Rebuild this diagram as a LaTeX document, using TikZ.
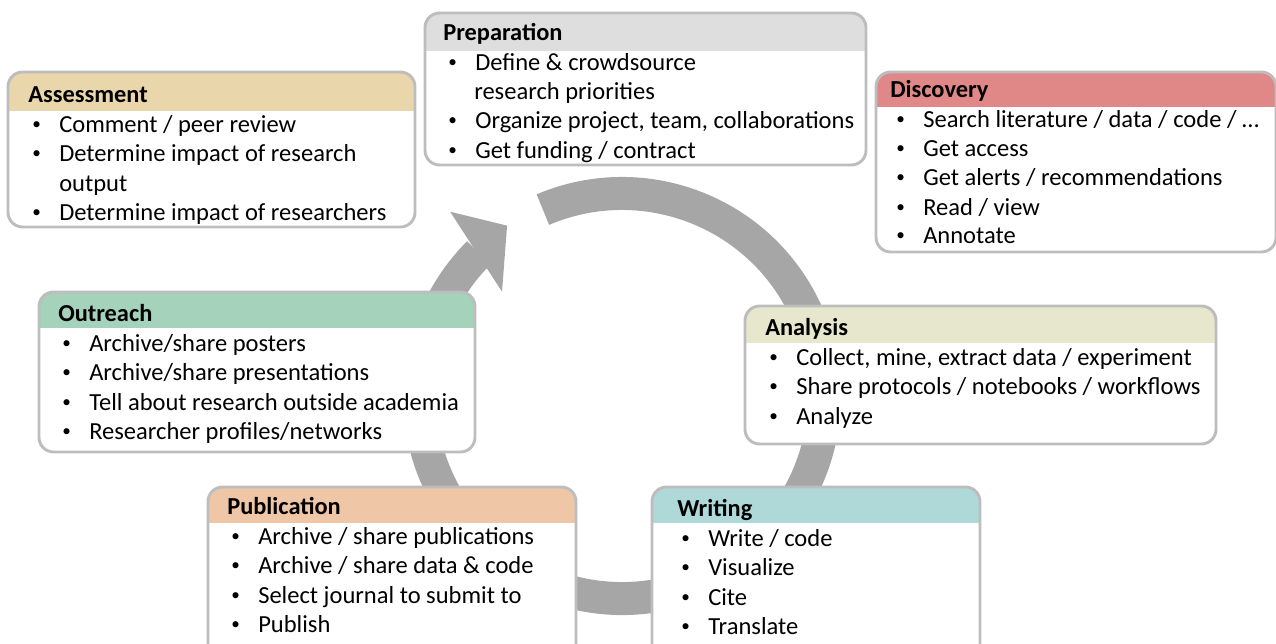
\documentclass[tikz,border=0pt]{standalone}
\usepackage{fontspec}
\setmainfont{Carlito}
\usetikzlibrary{calc}

\definecolor{ringgray}{HTML}{A6A6A6}
\definecolor{edgegray}{HTML}{BDBDBD}
\definecolor{prepcol}{HTML}{DCDCDC}
\definecolor{assesscol}{HTML}{E8D4A4}
\definecolor{disccol}{HTML}{DE7E7E}
\definecolor{outrcol}{HTML}{9DCFB5}
\definecolor{analcol}{HTML}{E6E6C9}
\definecolor{pubcol}{HTML}{EEC3A0}
\definecolor{writcol}{HTML}{A9D5D6}

\tikzset{
    box/.style={draw=edgegray, line width=2.2pt, rounded corners=11pt},
    title/.style={anchor=base west, inner sep=0pt, font=\fontsize{18.3}{22}\selectfont\bfseries},
    item/.style={anchor=base west, inner sep=0pt, font=\fontsize{18.4}{22}\selectfont},
    ring/.style={draw=ringgray, line width=24.75pt},
}

% box: x1, y1, x2, y2, header bottom, header colour
\newcommand\stagebox[6]{%
    \fill[white, rounded corners=11pt] (#1,#2) rectangle (#3,#4);
    \begin{scope}
        \clip[rounded corners=11pt] (#1,#2) rectangle (#3,#4);
        \fill[#6, fill opacity=.92] (#1,#2) rectangle (#3,#5);
    \end{scope}
    \draw[box] (#1,#2) rectangle (#3,#4);
}
\newcommand\bul{\makebox[20.25pt][l]{\raisebox{.12em}{\scalebox{.7}{\textbullet}}}}

\begin{document}
\begin{tikzpicture}[x=0.75pt,y=-0.75pt]
    \useasboundingbox (0,0) rectangle (1276,643);
    \coordinate (c) at (622,396);

    % cycle arrow
    \draw[ring] ($(c)+(-113:202.5)$) arc[start angle=-113, end angle=225, radius=202.5];
    \fill[ringgray] ($(c)+(221:159)$) -- ($(c)+(236:205.5)$) -- ($(c)+(227:252)$) -- cycle;

    % Preparation
    \stagebox{425}{13}{866}{165}{51}{prepcol}
    \node[title] (prep) at (443,40) {Preparation};
    \node[item] (prep1) at (448,70) {\bul Define \& crowdsource};
    \node[item] (prep1b) at (474,99) {research priorities};
    \node[item] (prep2) at (448,128) {\bul Organize project, team, collaborations};
    \node[item] (prep3) at (448,158) {\bul Get funding / contract};

    % Assessment
    \stagebox{8}{72}{415}{227}{111}{assesscol}
    \node[title] (assess) at (28,102) {Assessment};
    \node[item] (assess1) at (32,132) {\bul Comment / peer review};
    \node[item] (assess2) at (32,161) {\bul Determine impact of research};
    \node[item] (assess2b) at (59,191) {output};
    \node[item] (assess3) at (32,220) {\bul Determine impact of researchers};

    % Discovery
    \stagebox{876}{72}{1276}{252}{107}{disccol}
    \node[title] (disc) at (890,97) {Discovery};
    \node[item] (disc1) at (896,127) {\bul Search literature / data / code / …};
    \node[item] (disc2) at (896,156) {\bul Get access};
    \node[item] (disc3) at (896,185) {\bul Get alerts / recommendations};
    \node[item] (disc4) at (896,215) {\bul Read / view};
    \node[item] (disc5) at (896,243) {\bul Annotate};

    % Outreach
    \stagebox{39}{292}{475}{452}{328}{outrcol}
    \node[title] (outr) at (58,321) {Outreach};
    \node[item] (outr1) at (62,351) {\bul Archive/share posters};
    \node[item] (outr2) at (62,380) {\bul Archive/share presentations};
    \node[item] (outr3) at (62,410) {\bul Tell about research outside academia};
    \node[item] (outr4) at (62,439) {\bul Researcher profiles/networks};

    % Analysis
    \stagebox{745}{306}{1216}{444}{343}{analcol}
    \node[title] (anal) at (765,335) {Analysis};
    \node[item] (anal1) at (769,365) {\bul Collect, mine, extract data / experiment};
    \node[item] (anal2) at (769,394) {\bul Share protocols / notebooks / workflows};
    \node[item] (anal3) at (769,424) {\bul Analyze};

    % Publication
    \stagebox{208}{487}{576}{665}{523}{pubcol}
    \node[title] (pub) at (227,514) {Publication};
    \node[item] (pub1) at (231,544) {\bul Archive / share publications};
    \node[item] (pub2) at (231,573) {\bul Archive / share data \& code};
    \node[item] (pub3) at (231,603) {\bul Select journal to submit to};
    \node[item] (pub4) at (231,632) {\bul Publish};

    % Writing
    \stagebox{652}{487}{980}{665}{523}{writcol}
    \node[title] (writ) at (677,516) {Writing};
    \node[item] (writ1) at (681,546) {\bul Write / code};
    \node[item] (writ2) at (681,575) {\bul Visualize};
    \node[item] (writ3) at (681,605) {\bul Cite};
    \node[item] (writ4) at (681,634) {\bul Translate};
\end{tikzpicture}
\end{document}
